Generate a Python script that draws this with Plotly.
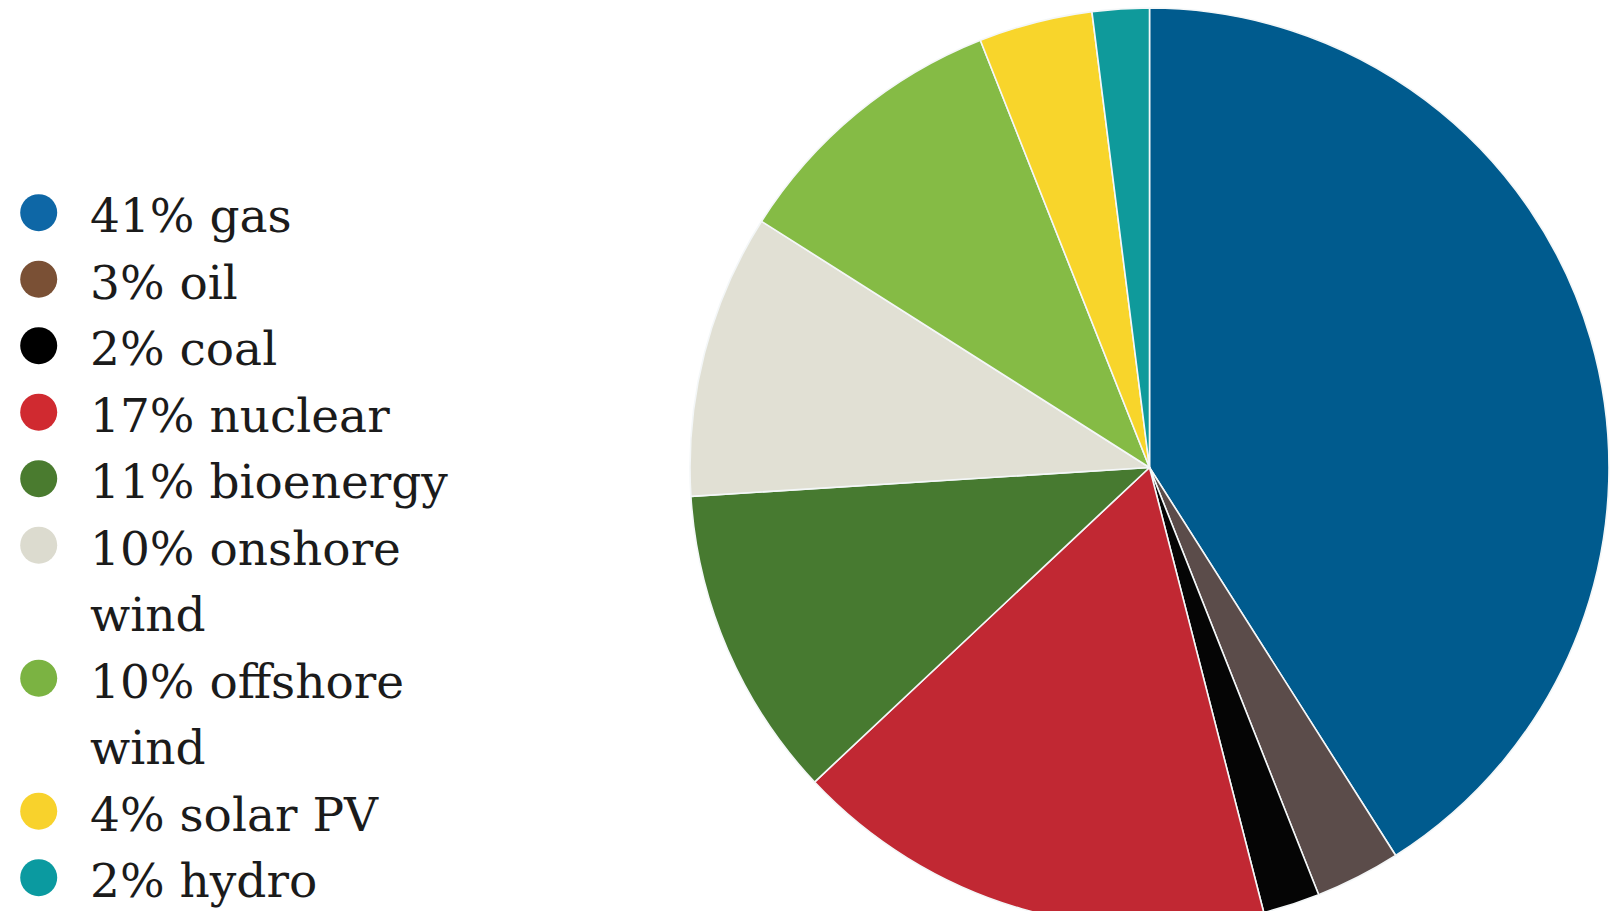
import plotly.graph_objects as go

# ---- data ----
categories = ["gas", "oil", "coal", "nuclear", "bioenergy",
              "onshore wind", "offshore wind", "solar PV", "hydro"]
values = [41, 3, 2, 17, 11, 10, 10, 4, 2]
legend_labels = ["41% gas", "3% oil", "2% coal", "17% nuclear", "11% bioenergy",
                 "10% onshore<br>wind", "10% offshore<br>wind", "4% solar PV", "2% hydro"]
slice_colors = ["#005b8e", "#5b4c4a", "#050505", "#c12833", "#477a30",
                "#e1e0d4", "#85bb45", "#f8d52b", "#0f9a9b"]
legend_colors = ["#0e67a6", "#7a5035", "#000000", "#d02a30", "#4a7b2f",
                 "#dcdbcf", "#7bb342", "#f8d22c", "#0b9aa0"]

# ---- layout constants ----
W, H = 1622, 940
ROW_PX = 66.5
FIRST_ROW_PX = 212.7
MARKER_X_PX, TEXT_X_PX = 38.7, 90.0
TEXT_DY = 0.12  # text sits slightly below marker centre (in rows)
FONT = "DejaVu Serif"

# legend rows derived from label line counts
marker_rows, text_rows, text_lines = [], [], []
row = 0
for lab in legend_labels:
    parts = lab.split("<br>")
    marker_rows.append(row)
    for p in parts:
        text_rows.append(row + TEXT_DY)
        text_lines.append(p)
        row += 1

fig = go.Figure()

fig.add_trace(go.Pie(
    labels=categories, values=values, sort=False, direction="clockwise",
    rotation=0, textinfo="none", showlegend=False,
    marker=dict(colors=slice_colors, line=dict(color="#f4f7f8", width=1.6)),
    domain=dict(x=[690 / W, 1609 / W], y=[(H - 927) / H, (H - 8) / H]),
))

fig.add_trace(go.Scatter(
    x=[0] * len(marker_rows), y=marker_rows, mode="markers",
    marker=dict(size=37, color=legend_colors, line=dict(width=0)),
    hoverinfo="skip", showlegend=False,
))

fig.add_trace(go.Scatter(
    x=[1] * len(text_rows), y=text_rows, mode="text", text=text_lines,
    textposition="middle right",
    textfont=dict(family=FONT, size=47, color="#1b1b1b"),
    hoverinfo="skip", showlegend=False,
))

sx = TEXT_X_PX - MARKER_X_PX
x0 = -MARKER_X_PX / sx
y0 = -FIRST_ROW_PX / ROW_PX
fig.update_layout(
    width=W, height=H, autosize=False,
    margin=dict(l=0, r=0, t=0, b=0, pad=0),
    paper_bgcolor="white", plot_bgcolor="white",
    xaxis=dict(range=[x0, x0 + W / sx], visible=False, fixedrange=True, domain=[0, 1]),
    yaxis=dict(range=[y0 + H / ROW_PX, y0], visible=False, fixedrange=True, domain=[0, 1]),
    showlegend=False,
)

fig.write_html(
    "out.html",
    config={"displayModeBar": False},
    post_script="document.body.style.margin='0';document.body.style.overflow='hidden';document.documentElement.style.overflow='hidden';",
)
